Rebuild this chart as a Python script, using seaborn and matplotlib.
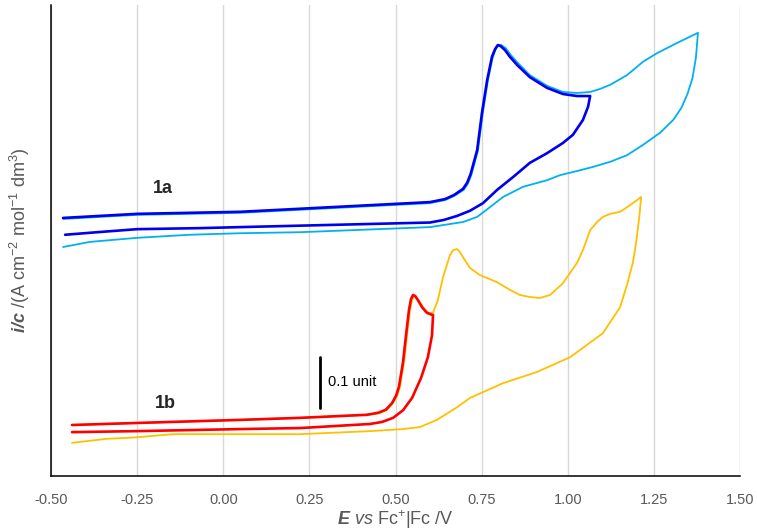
import matplotlib
matplotlib.use("Agg")
import matplotlib.pyplot as plt
import seaborn as sns
import pandas as pd

# ---------------- data (E in V vs Fc+|Fc, i/c in arbitrary units) ----------------
# 1a, dark blue trace (forward then reverse sweep)
e_1a_dark = [-0.465, -0.250, 0.049, 0.600, 0.644, 0.670, 0.696, 0.708, 0.718, 0.737,
             0.751, 0.766, 0.780, 0.789, 0.797, 0.805, 0.818, 0.832, 0.853, 0.890,
             0.940, 0.986, 1.027, 1.065,
             1.059, 1.044, 1.015, 0.986, 0.940, 0.890, 0.841, 0.795, 0.754, 0.716,
             0.679, 0.640, 0.600, 0.049, -0.067, -0.250, -0.366, -0.459]
i_1a_dark = [0.506, 0.514, 0.518, 0.537, 0.543, 0.551, 0.563, 0.575, 0.592, 0.639,
             0.712, 0.776, 0.822, 0.837, 0.845, 0.843, 0.835, 0.822, 0.806, 0.782,
             0.761, 0.749, 0.745, 0.745,
             0.724, 0.698, 0.669, 0.653, 0.633, 0.614, 0.586, 0.561, 0.535, 0.520,
             0.510, 0.502, 0.497, 0.488, 0.486, 0.484, 0.478, 0.473]

# 1a, light blue trace
e_1a_light = [-0.465, -0.250, 0.049, 0.600, 0.644, 0.670, 0.698, 0.710, 0.720, 0.739,
              0.753, 0.768, 0.782, 0.791, 0.799, 0.807, 0.820, 0.834, 0.855, 0.890,
              0.940, 0.986, 1.027, 1.065, 1.094, 1.123, 1.172, 1.218, 1.259, 1.317, 1.378,
              1.372, 1.362, 1.348, 1.330, 1.306, 1.268, 1.218, 1.172, 1.123, 1.073, 1.027,
              0.978, 0.940, 0.870, 0.812, 0.774, 0.737, 0.696, 0.600, 0.223, 0.049,
              -0.097, -0.250, -0.387, -0.465]
i_1a_light = [0.504, 0.512, 0.516, 0.535, 0.541, 0.549, 0.561, 0.573, 0.590, 0.637,
              0.710, 0.775, 0.820, 0.837, 0.845, 0.845, 0.839, 0.826, 0.810, 0.786,
              0.765, 0.753, 0.751, 0.753, 0.759, 0.767, 0.786, 0.812, 0.829, 0.849, 0.869,
              0.820, 0.780, 0.750, 0.722, 0.698, 0.673, 0.649, 0.629, 0.616, 0.606, 0.598,
              0.590, 0.580, 0.567, 0.547, 0.527, 0.508, 0.498, 0.488, 0.478, 0.476,
              0.473, 0.467, 0.459, 0.449]

# 1b, red trace
e_1b_red = [-0.439, -0.250, 0.049, 0.223, 0.417, 0.450, 0.472, 0.490, 0.502, 0.510,
            0.522, 0.530, 0.539, 0.545, 0.551, 0.557, 0.565, 0.577, 0.591, 0.606,
            0.609, 0.606, 0.594, 0.574, 0.548, 0.522, 0.493, 0.461, 0.426, 0.223,
            0.049, -0.250, -0.439]
i_1b_red = [0.100, 0.104, 0.110, 0.114, 0.120, 0.124, 0.130, 0.143, 0.158, 0.175,
            0.224, 0.273, 0.325, 0.347, 0.355, 0.353, 0.345, 0.331, 0.320, 0.316,
            0.316, 0.276, 0.233, 0.192, 0.153, 0.129, 0.114, 0.106, 0.102, 0.094,
            0.092, 0.088, 0.086]

# 1b, yellow trace
e_1b_yellow = [-0.439, -0.250, 0.049, 0.223, 0.417, 0.452, 0.474, 0.493, 0.505, 0.513,
               0.525, 0.533, 0.542, 0.548, 0.554, 0.560, 0.568, 0.580, 0.594, 0.609,
               0.623, 0.638, 0.658, 0.667, 0.679, 0.687, 0.696, 0.716, 0.745, 0.795,
               0.832, 0.861, 0.890, 0.919, 0.949, 0.986, 1.027, 1.044, 1.065, 1.085,
               1.102, 1.123, 1.152, 1.181, 1.213,
               1.208, 1.199, 1.189, 1.172, 1.152, 1.102, 1.007, 0.911, 0.812, 0.716,
               0.679, 0.620, 0.571, 0.522, 0.426, 0.223, 0.049, -0.146, -0.250, -0.271,
               -0.337, -0.439]
i_1b_yellow = [0.100, 0.104, 0.110, 0.114, 0.120, 0.123, 0.129, 0.143, 0.158, 0.175,
               0.224, 0.273, 0.325, 0.345, 0.353, 0.351, 0.343, 0.331, 0.320, 0.320,
               0.345, 0.390, 0.433, 0.443, 0.445, 0.439, 0.429, 0.408, 0.394, 0.380,
               0.365, 0.355, 0.351, 0.349, 0.355, 0.378, 0.418, 0.443, 0.482, 0.498,
               0.508, 0.514, 0.518, 0.531, 0.547,
               0.510, 0.460, 0.418, 0.375, 0.331, 0.280, 0.233, 0.204, 0.182, 0.153,
               0.135, 0.110, 0.096, 0.092, 0.088, 0.082, 0.082, 0.082, 0.076, 0.075,
               0.073, 0.065]

x_ticks = [-0.50, -0.25, 0.00, 0.25, 0.50, 0.75, 1.00, 1.25, 1.50]
x_tick_labels = ["-0.50", "-0.25", "0.00", "0.25", "0.50", "0.75", "1.00", "1.25", "1.50"]

# ---------------- style ----------------
sns.set_style("white")
plt.rcParams["font.family"] = ["Liberation Sans", "DejaVu Sans"]
plt.rcParams["mathtext.fontset"] = "custom"
plt.rcParams["mathtext.rm"] = "Liberation Sans"
plt.rcParams["mathtext.it"] = "Liberation Sans:italic"
plt.rcParams["mathtext.bf"] = "Liberation Sans:bold"
plt.rcParams["mathtext.bfit"] = "Liberation Sans:bold:italic"

fig = plt.figure(figsize=(7.57, 5.31), dpi=100)
ax = fig.add_axes([51 / 757, 55 / 531, 689 / 757, 471 / 531])

traces = [
    (e_1a_light, i_1a_light, "#00B0F0", 1.3),
    (e_1a_dark, i_1a_dark, "#0000EE", 1.9),
    (e_1b_yellow, i_1b_yellow, "#FFC000", 1.3),
    (e_1b_red, i_1b_red, "#FF0000", 1.9),
]
for e, i, c, lw in traces:
    df = pd.DataFrame({"E": e, "i": i})
    sns.lineplot(data=df, x="E", y="i", sort=False, estimator=None, color=c,
                 linewidth=lw, ax=ax, solid_joinstyle="round", solid_capstyle="round")

ax.set_xlim(-0.5, 1.5)
ax.set_ylim(0, 0.9235)
ax.set_xticks(x_ticks)
ax.set_xticklabels(x_tick_labels)
ax.set_yticks([])
ax.xaxis.grid(True, color="#d9d9d9", linewidth=1.0)
ax.yaxis.grid(False)
ax.set_axisbelow(True)
for s in ["top", "right"]:
    ax.spines[s].set_visible(False)
for s in ["left", "bottom"]:
    ax.spines[s].set_color("#000000")
    ax.spines[s].set_linewidth(1.1)
ax.tick_params(axis="x", direction="in", length=4, width=1, color="#000000",
               pad=12, labelsize=10.5, labelcolor="#595959")

ax.set_xlabel(r"$\mathbfit{E}$ $\mathit{vs}$ Fc$^{+}$|Fc /V", fontsize=13,
              color="#595959", labelpad=1)
ax.set_ylabel(r"$\mathbfit{i/c}$ /(A cm$^{-2}$ mol$^{-1}$ dm$^{3}$)", fontsize=13,
              color="#595959", labelpad=14)

ax.text(-0.175, 0.563, "1a", fontsize=13, fontweight="bold", ha="center", va="center")
ax.text(-0.169, 0.143, "1b", fontsize=13, fontweight="bold", ha="center", va="center")
ax.plot([0.281, 0.281], [0.133, 0.233], color="black", linewidth=2.0)
ax.text(0.305, 0.184, "0.1 unit", fontsize=10.5, ha="left", va="center", color="#000000")

fig.savefig("out.png", dpi=100)
